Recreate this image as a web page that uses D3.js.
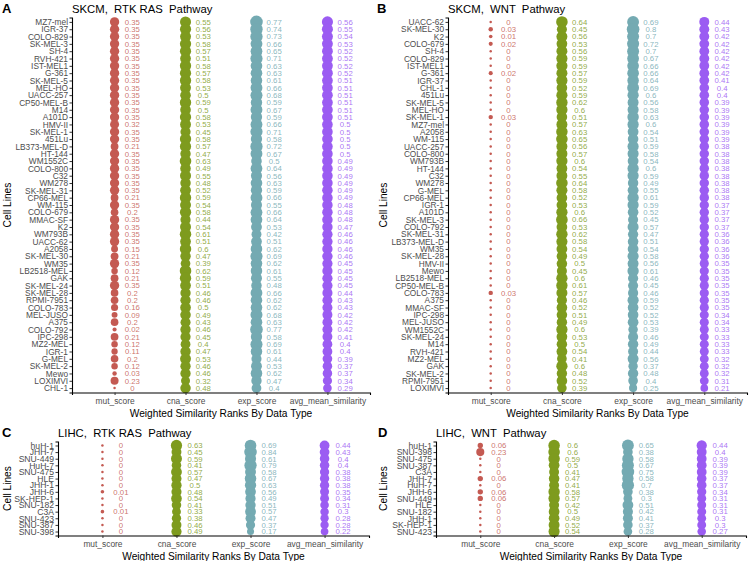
<!DOCTYPE html>
<html>
<head>
<meta charset="utf-8">
<script src="https://cdn.jsdelivr.net/npm/d3@7"></script>
<style>
  html, body { margin: 0; padding: 0; background: #fff; }
  svg { display: block; font-family: "Liberation Sans", Arial, Helvetica, sans-serif; }
</style>
</head>
<body>
<svg id="chart" width="749" height="561"></svg>
<script>
// ---------------- DATA ----------------
const metrics = ["mut_score", "cna_score", "exp_score", "avg_mean_similarity"];
const metricColors = ["#C45A52", "#7E9B1E", "#74AAB2", "#9B5CF2"];

// Panel A: SKCM, RTK RAS
const aCells = ["MZ7-mel","IGR-37","COLO-829","SK-MEL-3","SH-4","RVH-421","IST-MEL1","G-361","SK-MEL-5","MEL-HO","UACC-257","CP50-MEL-B","M14","A101D","HMV-II","SK-MEL-1","451Lu","LB373-MEL-D","HT-144","WM1552C","COLO-800","C32","WM278","SK-MEL-31","CP66-MEL","WM-115","COLO-679","MMAC-SF","K2","WM793B","UACC-62","A2058","SK-MEL-30","WM35","LB2518-MEL","GAK","SK-MEL-24","SK-MEL-28","RPMI-7951","COLO-783","MEL-JUSO","A375","COLO-792","IPC-298","MZ2-MEL","IGR-1","G-MEL","SK-MEL-2","Mewo","LOXIMVI","CHL-1"];
const aMut = [0.35,0.35,0.35,0.35,0.35,0.35,0.35,0.35,0.35,0.35,0.35,0.35,0.35,0.35,0.32,0.35,0.35,0.21,0.35,0.35,0.35,0.35,0.35,0.35,0.21,0.35,0.2,0.35,0.35,0.35,0.35,0.15,0.21,0.35,0.12,0.21,0.35,0.2,0.2,0.16,0.09,0.2,0.02,0.21,0.12,0.11,0.2,0.12,0.03,0.23,0];
const aCna = [0.55,0.56,0.53,0.58,0.57,0.51,0.58,0.57,0.58,0.53,0.5,0.59,0.5,0.58,0.53,0.45,0.58,0.57,0.47,0.63,0.49,0.55,0.48,0.52,0.59,0.54,0.58,0.44,0.54,0.61,0.51,0.6,0.47,0.39,0.62,0.59,0.51,0.46,0.46,0.5,0.49,0.43,0.46,0.45,0.4,0.47,0.53,0.46,0.46,0.32,0.48];
const aExp = [0.77,0.74,0.73,0.66,0.65,0.71,0.63,0.63,0.61,0.66,0.68,0.59,0.67,0.59,0.66,0.71,0.58,0.72,0.67,0.5,0.64,0.56,0.63,0.59,0.66,0.55,0.66,0.64,0.53,0.42,0.51,0.62,0.69,0.62,0.61,0.55,0.48,0.66,0.62,0.62,0.68,0.63,0.77,0.58,0.69,0.61,0.44,0.53,0.62,0.47,0.4];
const aAvg = [0.56,0.55,0.54,0.53,0.52,0.52,0.52,0.52,0.51,0.51,0.51,0.51,0.51,0.51,0.5,0.5,0.5,0.5,0.5,0.49,0.49,0.49,0.49,0.49,0.49,0.48,0.48,0.48,0.47,0.46,0.46,0.46,0.46,0.45,0.45,0.45,0.45,0.44,0.43,0.43,0.42,0.42,0.42,0.41,0.4,0.4,0.39,0.37,0.37,0.34,0.29];

// Panel B: SKCM, WNT
const bCells = ["UACC-62","SK-MEL-30","K2","COLO-679","SH-4","COLO-829","IST-MEL1","G-361","IGR-37","CHL-1","451Lu","SK-MEL-5","MEL-HO","SK-MEL-1","MZ7-mel","A2058","WM-115","UACC-257","COLO-800","WM793B","HT-144","C32","WM278","G-MEL","CP66-MEL","IGR-1","A101D","SK-MEL-3","COLO-792","SK-MEL-31","LB373-MEL-D","WM35","SK-MEL-28","HMV-II","Mewo","LB2518-MEL","CP50-MEL-B","COLO-783","A375","MMAC-SF","IPC-298","MEL-JUSO","WM1552C","SK-MEL-24","M14","RVH-421","MZ2-MEL","GAK","SK-MEL-2","RPMI-7951","LOXIMVI"];
const bMut = [0,0.03,0.01,0.02,0,0,0,0.02,0,0,0,0,0,0.03,0,0,0,0,0,0,0,0,0,0,0,0,0,0,0,0,0,0,0,0,0,0,0,0.03,0,0,0,0,0,0,0,0,0,0,0,0,0];
const bCna = [0.64,0.45,0.56,0.53,0.56,0.59,0.59,0.57,0.59,0.52,0.59,0.62,0.6,0.51,0.57,0.63,0.65,0.56,0.57,0.6,0.54,0.55,0.64,0.58,0.52,0.53,0.6,0.66,0.53,0.62,0.58,0.54,0.49,0.5,0.45,0.6,0.61,0.57,0.46,0.52,0.51,0.49,0.6,0.53,0.5,0.54,0.41,0.6,0.48,0.52,0.39];
const bExp = [0.69,0.8,0.7,0.72,0.7,0.67,0.66,0.66,0.64,0.69,0.6,0.56,0.58,0.63,0.6,0.54,0.51,0.59,0.58,0.54,0.6,0.59,0.49,0.55,0.61,0.59,0.52,0.45,0.57,0.47,0.51,0.54,0.58,0.56,0.61,0.46,0.45,0.46,0.59,0.52,0.52,0.53,0.39,0.46,0.49,0.44,0.56,0.37,0.48,0.4,0.25];
const bAvg = [0.44,0.43,0.42,0.42,0.42,0.42,0.42,0.42,0.41,0.4,0.4,0.39,0.39,0.39,0.39,0.39,0.39,0.38,0.38,0.38,0.38,0.38,0.38,0.38,0.38,0.37,0.37,0.37,0.37,0.36,0.36,0.36,0.36,0.35,0.35,0.35,0.35,0.35,0.35,0.35,0.34,0.34,0.33,0.33,0.33,0.33,0.32,0.32,0.32,0.31,0.21];

// Panel C: LIHC, RTK RAS
const cCells = ["huH-1","JHH-7","SNU-449","HuH-7","SNU-475","HLE","JHH-1","JHH-6","SK-HEP-1","SNU-182","C3A","SNU-423","SNU-387","SNU-398"];
const cMut = [0,0,0,0,0,0,0,0.01,0,0,0.01,0,0,0];
const cCna = [0.63,0.45,0.59,0.41,0.57,0.47,0.5,0.48,0.54,0.41,0.33,0.38,0.46,0.49];
const cExp = [0.69,0.84,0.61,0.79,0.58,0.67,0.63,0.56,0.49,0.51,0.57,0.47,0.37,0.17];
const cAvg = [0.44,0.43,0.4,0.4,0.38,0.38,0.38,0.35,0.34,0.31,0.3,0.28,0.28,0.22];

// Panel D: LIHC, WNT
const dCells = ["huH-1","SNU-398","SNU-475","SNU-387","C3A","JHH-7","HuH-7","JHH-6","SNU-449","HLE","SNU-182","JHH-1","SK-HEP-1","SNU-423"];
const dMut = [0.06,0.23,0,0,0,0.06,0,0.06,0.06,0,0,0,0,0];
const dCna = [0.6,0.6,0.59,0.5,0.41,0.47,0.41,0.58,0.57,0.42,0.5,0.49,0.52,0.54];
const dExp = [0.65,0.38,0.58,0.67,0.75,0.58,0.7,0.38,0.3,0.51,0.42,0.41,0.37,0.28];
const dAvg = [0.44,0.4,0.39,0.39,0.39,0.37,0.37,0.34,0.31,0.31,0.31,0.3,0.3,0.27];

const panelLetters = ["A", "B", "C", "D"];
const panelTitles = ["SKCM,  RTK RAS  Pathway", "SKCM,  WNT  Pathway", "LIHC,  RTK RAS  Pathway", "LIHC,  WNT  Pathway"];
const xTitle = "Weighted Similarity Ranks By Data Type";
const yTitle = "Cell Lines";

// ---------------- LAYOUT ----------------
const panels = [
  { cells: aCells, series: [aMut, aCna, aExp, aAvg], left: 72, right: 370, top: 17.5, bottom: 392.5, letterX: 2, labelX: 7, lab: 8.3 },
  { cells: bCells, series: [bMut, bCna, bExp, bAvg], left: 448, right: 747, top: 17.5, bottom: 392.5, letterX: 377, labelX: 383, lab: 8.3 },
  { cells: cCells, series: [cMut, cCna, cExp, cAvg], left: 58, right: 369, top: 441.5, bottom: 535.5, letterX: 2, labelX: 7, lab: 8.6 },
  { cells: dCells, series: [dMut, dCna, dExp, dAvg], left: 436, right: 746, top: 441.5, bottom: 535.5, letterX: 378, labelX: 383, lab: 8.6 }
];

const svg = d3.select("#chart");

panels.forEach((p, pi) => {
  const g = svg.append("g");
  const x = d3.scalePoint().domain(metrics).range([p.left, p.right]).padding(0.6);
  const y = d3.scalePoint().domain(p.cells).range([p.top, p.bottom]).padding(0.6);
  const maxV = d3.max(p.series.flat());
  const r = d3.scaleSqrt().domain([0, maxV]).range([1.25, 6.3]);
  const color = d3.scaleOrdinal().domain(metrics).range(metricColors);
  const nudge = x.step() * 0.25;

  // points
  metrics.forEach((m, mi) => {
    const vals = p.series[mi];
    const rows = p.cells.map((c, i) => ({ cell: c, v: vals[i] }));
    g.append("g").selectAll("circle").data(rows).join("circle")
      .attr("cx", x(m))
      .attr("cy", d => y(d.cell))
      .attr("r", d => r(d.v))
      .attr("fill", color(m));
    g.append("g").selectAll("text").data(rows).join("text")
      .attr("x", x(m) + nudge)
      .attr("y", d => y(d.cell))
      .attr("dy", "0.36em")
      .attr("text-anchor", "middle")
      .attr("font-size", 7.8)
      .attr("fill", color(m))
      .attr("fill-opacity", 0.85)
      .text(d => String(d.v));
  });

  // axes
  const yAxis = g.append("g").attr("transform", `translate(${p.left},0)`)
    .call(d3.axisLeft(y).tickSize(2.5).tickPadding(1.5));
  yAxis.select(".domain").attr("stroke", "#000").attr("stroke-width", 1.1);
  yAxis.selectAll(".tick line").attr("stroke", "#333");
  yAxis.selectAll(".tick text").attr("font-size", p.lab).attr("fill", "#4D4D4D")
    .attr("font-family", "Liberation Sans, Arial, sans-serif");

  const xAxis = g.append("g").attr("transform", `translate(0,${p.bottom})`)
    .call(d3.axisBottom(x).tickSize(2.5).tickPadding(3));
  xAxis.select(".domain").attr("stroke", "#000").attr("stroke-width", 1.1);
  xAxis.selectAll(".tick line").attr("stroke", "#333");
  xAxis.selectAll(".tick text").attr("font-size", 8.4).attr("fill", "#4D4D4D")
    .attr("font-family", "Liberation Sans, Arial, sans-serif");

  // axis titles
  g.append("text")
    .attr("x", (p.left + p.right) / 2)
    .attr("y", p.bottom + 24)
    .attr("text-anchor", "middle")
    .attr("font-size", 10.2)
    .attr("fill", "#000")
    .text(xTitle);
  g.append("text")
    .attr("transform", `translate(${p.labelX},${(p.top + p.bottom) / 2}) rotate(-90)`)
    .attr("text-anchor", "middle")
    .attr("dy", "0.35em")
    .attr("font-size", 10.2)
    .attr("fill", "#000")
    .text(yTitle);

  // panel title and letter
  g.append("text")
    .attr("x", p.left)
    .attr("y", p.top - 5)
    .attr("font-size", 11.3)
    .attr("fill", "#000")
    .style("white-space", "pre")
    .text(panelTitles[pi]);
  g.append("text")
    .attr("x", p.letterX)
    .attr("y", p.top - 5)
    .attr("font-size", 13)
    .attr("font-weight", "bold")
    .attr("fill", "#000")
    .text(panelLetters[pi]);
});
</script>
</body>
</html>
